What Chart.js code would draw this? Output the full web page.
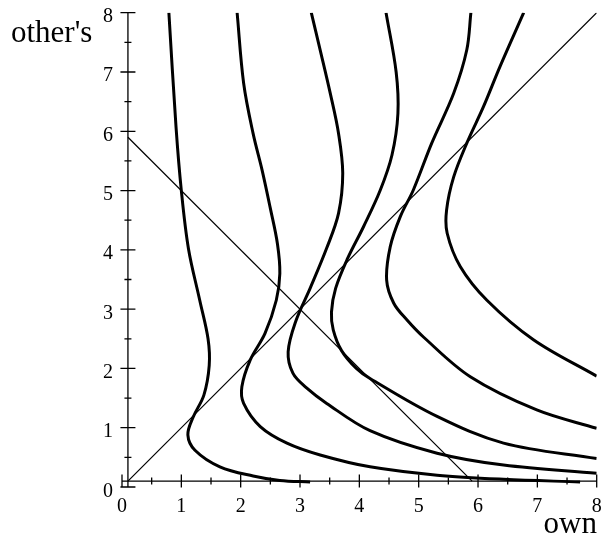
<!DOCTYPE html>
<html>
<head>
<meta charset="utf-8">
<script src="https://cdn.jsdelivr.net/npm/chart.js@4/dist/chart.umd.min.js"></script>
<style>
  html, body { margin: 0; padding: 0; background: #fff; }
  #wrap { width: 601px; height: 539px; }
</style>
</head>
<body>
<div id="wrap"><canvas id="prefChart" width="601" height="539"></canvas></div>
<script>
// indifference curves, points as [own, other's]
const curve1 = [[0.79, 8.0], [0.91, 6.08], [1.0, 5.0], [1.12, 4.02], [1.31, 3.15], [1.45, 2.5], [1.47, 2.05],
    [1.38, 1.55], [1.2, 1.18], [1.11, 0.88], [1.23, 0.62], [1.65, 0.34], [2.21, 0.185], [2.66, 0.11], [3.17, 0.085]];
const curve2 = [[1.94, 8.0], [2.05, 6.81], [2.21, 5.96], [2.36, 5.35], [2.5, 4.7], [2.62, 4.1], [2.66, 3.6],
    [2.6, 3.15], [2.41, 2.59], [2.16, 2.14], [2.02, 1.69], [2.05, 1.41], [2.33, 1.02], [2.78, 0.74], [3.34, 0.54],
    [4.18, 0.34], [5.31, 0.2], [6.43, 0.13], [7.72, 0.085]];
const curve3 = [[3.19, 8.0], [3.34, 7.37], [3.51, 6.64], [3.65, 5.96], [3.72, 5.29], [3.65, 4.62], [3.45, 4.03],
    [3.17, 3.35], [2.93, 2.8], [2.8, 2.28], [2.88, 1.92], [3.1, 1.68], [3.45, 1.41], [4.18, 0.95], [5.31, 0.57],
    [6.43, 0.37], [8.0, 0.23]];
const curve4 = [[4.45, 8.0], [4.62, 7.0], [4.65, 6.3], [4.55, 5.6], [4.35, 5.0], [4.07, 4.39], [3.8, 3.85],
    [3.6, 3.35], [3.53, 2.95], [3.56, 2.65], [3.7, 2.3], [3.95, 2.0], [4.18, 1.83], [5.31, 1.19], [6.43, 0.74],
    [8.0, 0.48]];
const curve5 = [[5.88, 8.0], [5.81, 7.37], [5.59, 6.64], [5.22, 5.8], [4.91, 5.01], [4.69, 4.56], [4.52, 4.05],
    [4.46, 3.49], [4.58, 3.1], [4.8, 2.82], [5.08, 2.53], [5.87, 1.86], [6.99, 1.3], [8.0, 0.99]];
const curve6 = [[6.77, 8.0], [6.37, 7.09], [6.09, 6.41], [5.82, 5.82], [5.59, 5.23], [5.47, 4.67], [5.48, 4.28],
    [5.7, 3.72], [6.15, 3.15], [6.94, 2.48], [8.0, 1.87]];

// 45-degree line and the budget line own + other's = 6
const equalLine = [[0.1, 0.1], [8.0, 8.0]];
const budgetLine = [[0.1, 5.9], [5.9, 0.1]];

const majorTicks = [0, 1, 2, 3, 4, 5, 6, 7, 8];
const minorTicks = [0.5, 1.5, 2.5, 3.5, 4.5, 5.5, 6.5, 7.5];
const axisCross = 0.1;

const toXY = pts => pts.map(p => ({ x: p[0], y: p[1] }));

const thick = pts => ({
    data: toXY(pts),
    showLine: true,
    borderColor: '#000',
    borderWidth: 3,
    pointRadius: 0,
    tension: 0.35,
    fill: false
});
const thin = pts => ({
    data: toXY(pts),
    showLine: true,
    borderColor: '#000',
    borderWidth: 1.2,
    pointRadius: 0,
    tension: 0,
    fill: false
});

// axes crossing at (0.1, 0.1) with ticks through the line
const crossAxes = {
    id: 'crossAxes',
    afterDatasetsDraw(chart) {
        const ctx = chart.ctx;
        const xs = chart.scales.x, ys = chart.scales.y;
        const ax = xs.getPixelForValue(axisCross);
        const ay = ys.getPixelForValue(axisCross);
        ctx.save();
        ctx.strokeStyle = '#000';
        ctx.lineWidth = 1.3;
        ctx.beginPath();
        ctx.moveTo(xs.getPixelForValue(0), ay);
        ctx.lineTo(xs.getPixelForValue(8), ay);
        ctx.moveTo(ax, ys.getPixelForValue(0));
        ctx.lineTo(ax, ys.getPixelForValue(8));
        majorTicks.forEach(v => {
            const px = xs.getPixelForValue(v), py = ys.getPixelForValue(v);
            ctx.moveTo(px, ay - 6.5); ctx.lineTo(px, ay + 6.5);
            ctx.moveTo(ax - 7.5, py); ctx.lineTo(ax + 7.5, py);
        });
        minorTicks.forEach(v => {
            const px = xs.getPixelForValue(v), py = ys.getPixelForValue(v);
            ctx.moveTo(px, ay - 3.5); ctx.lineTo(px, ay + 3.5);
            ctx.moveTo(ax - 3.5, py); ctx.lineTo(ax + 3.5, py);
        });
        ctx.stroke();

        ctx.fillStyle = '#000';
        ctx.font = '20px "Liberation Serif", "Times New Roman", serif';
        ctx.textBaseline = 'alphabetic';
        ctx.textAlign = 'center';
        majorTicks.forEach(v => ctx.fillText(String(v), xs.getPixelForValue(v), ay + 31));
        ctx.textAlign = 'right';
        majorTicks.forEach(v => ctx.fillText(String(v), ax - 15, ys.getPixelForValue(v) + 9.5));

        ctx.font = '31px "Liberation Serif", "Times New Roman", serif';
        ctx.textAlign = 'left';
        ctx.fillText("other's", 11, 42);
        ctx.textAlign = 'right';
        ctx.fillText('own', 597, 533);
        ctx.restore();
    }
};

new Chart(document.getElementById('prefChart'), {
    type: 'scatter',
    data: {
        datasets: [
            thick(curve1), thick(curve2), thick(curve3),
            thick(curve4), thick(curve5), thick(curve6),
            thin(equalLine), thin(budgetLine)
        ]
    },
    options: {
        responsive: false,
        animation: false,
        layout: { padding: { left: 122, right: 4.3, top: 12.7, bottom: 52 } },
        scales: {
            x: { type: 'linear', min: 0, max: 8, display: false },
            y: { type: 'linear', min: 0, max: 8, display: false }
        },
        plugins: {
            legend: { display: false },
            tooltip: { enabled: false }
        }
    },
    plugins: [crossAxes]
});
</script>
</body>
</html>
